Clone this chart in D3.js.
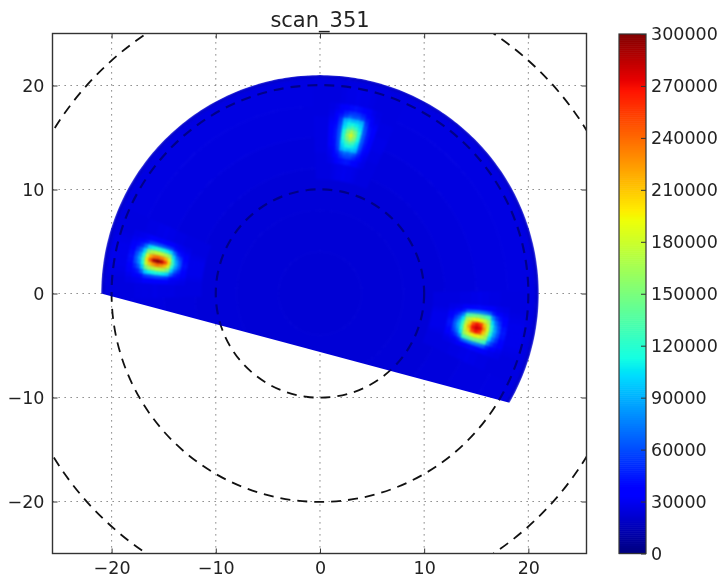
<!DOCTYPE html>
<html><head><meta charset="utf-8">
<script src="https://cdn.jsdelivr.net/npm/d3@7"></script>
<style>html,body{margin:0;padding:0;background:#fff}svg{display:block}text{font-family:"DejaVu Sans";fill:#222}</style>
</head><body><svg id="c" width="720" height="577"></svg>
<script>
const titleText = "scan_351";
const axisTicks = [-20,-10,0,10,20];
const colorTicks = [0,30000,60000,90000,120000,150000,180000,210000,240000,270000,300000];
const circleRadii = [10,20,30];
const sectorRadius = 21, sectorStart = -30, sectorEnd = 180;
const bgEdges = [0,4,8,12,15,18,20.7,21];
const bgValues = [22000,22500,23000,24000,25000,25500,20000];
const radialEdges = [-4.5,-2.9,-2.3,-1.95,-1.6,-1.25,-.9,-.55,-.18,.18,.55,.9,1.25,1.6,1.95,2.3,2.9,4.5];
const arcEdges = [-3.5,-2.2,-1.7,-1.35,-.95,-.55,-.17,.17,.55,.95,1.35,1.7,2.2,3.5];
const peakCenters = [[15.9,168.8],[15.5,79],[15.4,-12.3]];
// values in thousands; rows run along the radius, columns along the arc
const peakLeft = [
[25,25,26,27,28,28,28,28,28,27,26,25,25],
[25,27,29,32,36,40,42,40,36,32,29,27,25],
[25,28,32,40,52,62,66,62,50,40,32,28,25],
[26,29,36,48,68,84,92,84,66,48,36,29,26],
[26,31,42,70,100,118,132,116,98,68,40,30,26],
[26,34,54,100,150,186,205,184,145,98,52,33,26],
[27,36,58,110,168,215,252,212,165,108,56,35,26],
[27,37,60,116,176,232,284,228,172,112,58,36,26],
[28,38,62,118,180,240,298,238,176,114,60,36,27],
[27,37,60,116,176,236,288,226,172,112,58,36,26],
[27,36,58,110,168,218,246,210,164,108,56,35,26],
[26,34,54,100,150,184,200,180,146,98,52,33,26],
[26,31,42,70,100,116,128,114,96,66,40,30,26],
[26,29,36,48,66,82,88,80,64,46,36,29,26],
[25,28,32,40,50,60,64,60,48,40,32,28,25],
[25,27,29,32,36,40,42,40,36,32,29,27,25],
[25,25,26,27,28,28,28,28,28,27,26,25,25]];
const peakTop = [
[25,25,26,27,28,28,29,28,28,27,26,25,25],
[25,27,29,34,38,42,44,42,40,34,29,27,25],
[25,28,33,40,48,56,58,56,50,40,33,28,25],
[26,29,35,46,60,68,66,70,60,46,35,29,26],
[26,31,39,54,90,96,94,98,90,54,39,31,26],
[26,33,41,60,100,110,116,112,100,58,41,33,26],
[27,34,43,62,106,126,136,126,108,60,41,33,26],
[27,35,45,64,113,148,170,148,116,62,43,34,26],
[27,35,45,64,116,158,186,158,116,62,43,34,26],
[27,35,45,64,113,146,166,148,113,62,43,34,26],
[26,34,43,62,106,123,133,123,104,60,41,33,26],
[26,33,41,58,98,108,112,110,98,56,39,32,26],
[26,31,38,52,88,94,92,96,88,52,37,30,26],
[26,28,34,44,56,64,62,66,56,44,33,28,25],
[25,27,31,38,46,52,54,52,46,38,31,27,25],
[25,26,28,32,36,40,42,40,36,32,28,26,25],
[25,25,25,26,27,27,28,27,27,26,25,25,25]];
const peakRight = [
[25,25,26,27,28,28,28,28,28,27,26,25,25],
[25,27,29,33,38,42,44,42,38,33,29,27,25],
[25,28,33,42,54,62,66,62,54,42,33,28,25],
[26,29,38,54,72,84,90,84,72,54,38,29,26],
[26,32,46,76,104,118,124,118,104,76,46,32,26],
[26,36,64,126,162,176,184,176,162,126,64,36,26],
[27,38,70,136,178,205,222,205,178,136,70,38,27],
[27,39,74,142,190,250,268,250,190,142,74,39,27],
[28,40,76,146,196,268,280,268,196,146,76,40,28],
[27,39,74,142,190,255,272,255,190,142,74,39,27],
[27,38,70,136,178,210,228,210,178,136,70,38,27],
[26,36,64,126,160,176,186,176,160,126,64,36,26],
[26,32,46,76,102,116,124,116,102,76,46,32,26],
[26,29,38,54,70,82,88,82,70,54,38,29,26],
[25,28,33,42,52,60,64,60,52,42,33,28,25],
[25,27,29,33,38,42,44,42,38,33,29,27,25],
[25,25,26,27,28,28,28,28,28,27,26,25,25]];
const peaks = [peakLeft, peakTop, peakRight];

const svg = d3.select("#c");
const x = d3.scaleLinear().domain([-25.67,25.58]).range([52.5,586.5]);
const y = d3.scaleLinear().domain([-25,25]).range([553.5,33.5]);
const rpx = r => x(r)-x(0);
const polar = (r,deg) => [x(r*Math.cos(deg*Math.PI/180)), y(r*Math.sin(deg*Math.PI/180))];
const red = d3.scaleLinear().domain([0,.35,.66,.89,1]).range([0,0,1,1,.5]).clamp(true);
const green = d3.scaleLinear().domain([0,.125,.375,.64,.91,1]).range([0,0,1,1,0,0]).clamp(true);
const blue = d3.scaleLinear().domain([0,.11,.34,.65,1]).range([.5,1,1,0,0]).clamp(true);
const norm = d3.scaleLinear().domain([0,300000]).range([0,1]);
const jet = v => { const t=norm(v); return d3.rgb(red(t)*255,green(t)*255,blue(t)*255).formatRgb(); };

const defs = svg.append("defs");
const blur = (id,s)=>defs.append("filter").attr("id",id).attr("x","-5%").attr("y","-5%").attr("width","110%").attr("height","110%")
  .attr("color-interpolation-filters","sRGB").append("feGaussianBlur").attr("stdDeviation",s);
blur("soft",1.0); blur("all",0.45);
const sectorPts = d3.range(sectorStart,sectorEnd+.5,1).map(a=>polar(sectorRadius,a));
defs.append("clipPath").attr("id","sector").append("path").attr("d",d3.line()(sectorPts)+"Z");
defs.append("clipPath").attr("id","plot").append("rect")
  .attr("x",x.range()[0]).attr("y",y.range()[1]).attr("width",x.range()[1]-x.range()[0]).attr("height",y.range()[0]-y.range()[1]);

const root = svg.append("g").attr("filter","url(#all)");
const plot = root.append("g").attr("clip-path","url(#plot)");
// grid
plot.selectAll(".gx").data(axisTicks).join("line").attr("x1",d=>x(d)).attr("x2",d=>x(d)).attr("y1",y.range()[0]).attr("y2",y.range()[1]);
plot.selectAll(".gy").data(axisTicks).enter().append("line").attr("y1",d=>y(d)).attr("y2",d=>y(d)).attr("x1",x.range()[0]).attr("x2",x.range()[1]);
plot.selectAll("line").attr("stroke","#777").attr("stroke-width",1.1).attr("stroke-dasharray","1.3,4.7");
// dashed circles under the mesh
const circles = (g,color,w)=>g.selectAll("circle").data(circleRadii).join("circle")
  .attr("cx",x(0)).attr("cy",y(0)).attr("r",d=>rpx(d)).attr("fill","none")
  .attr("stroke",color).attr("stroke-width",w).attr("stroke-dasharray","10,7");
circles(plot.append("g"),"#111",1.8);
// mesh
const mesh = plot.append("g").attr("clip-path","url(#sector)");
const inner = mesh.append("g").attr("filter","url(#soft)");
const arc = d3.arc();
inner.selectAll(".bg").data(bgValues).join("path")
  .attr("transform",`translate(${x(0)},${y(0)})`)
  .attr("d",(d,i)=>arc({innerRadius:rpx(bgEdges[i]),outerRadius:rpx(bgEdges[i+1]),startAngle:0,endAngle:2*Math.PI}))
  .attr("fill",d=>jet(d)).attr("stroke",d=>jet(d)).attr("stroke-width",1);
peaks.forEach((m,p)=>{
  const [r0,a0]=peakCenters[p];
  const deg = s => a0 + s/r0*180/Math.PI;
  m.forEach((row,i)=>row.forEach((v,j)=>{
    const r1=r0+radialEdges[i], r2=r0+radialEdges[i+1], a1=deg(arcEdges[j]), a2=deg(arcEdges[j+1]);
    inner.append("path").attr("d",d3.line()([polar(r1,a1),polar(r2,a1),polar(r2,a2),polar(r1,a2)])+"Z")
      .attr("fill",jet(v*1000)).attr("stroke",jet(v*1000)).attr("stroke-width",.4);
  }));
});
circles(mesh.append("g"),"#000088",2.2);

// axes
const ax = (gen,t,labels)=>{const g=root.append("g").attr("transform",t)
  .call(gen.tickValues(axisTicks).tickSizeInner(-5).tickSizeOuter(0).tickPadding(8).tickFormat(labels?null:""));
  g.select(".domain").remove(); g.selectAll("line").attr("stroke","#333").attr("stroke-width",1);
  g.selectAll("text").attr("font-size",17.5).attr("fill","#222").attr("font-family","DejaVu Sans"); return g;};
ax(d3.axisBottom(x),`translate(0,${y.range()[0]})`,true);
ax(d3.axisTop(x),`translate(0,${y.range()[1]})`,false);
ax(d3.axisLeft(y),`translate(${x.range()[0]},0)`,true);
ax(d3.axisRight(y),`translate(${x.range()[1]},0)`,false);
root.append("rect").attr("x",x.range()[0]).attr("y",y.range()[1]).attr("width",x.range()[1]-x.range()[0]).attr("height",y.range()[0]-y.range()[1])
  .attr("fill","none").attr("stroke","#333").attr("stroke-width",1.4);
root.append("text").attr("x",320).attr("y",27).attr("text-anchor","middle").attr("font-size",21).text(titleText);

// colorbar
const cy = d3.scaleLinear().domain([0,300000]).range([553.5,34]);
const cbX0=619, cbX1=646;
const steps = d3.range(0,300000,300000/256);
root.append("g").selectAll("rect").data(steps).join("rect")
  .attr("x",cbX0).attr("width",cbX1-cbX0).attr("y",d=>cy(d+300000/256)).attr("height",d=>cy(d)-cy(d+300000/256)+.6).attr("fill",d=>jet(d));
root.append("rect").attr("x",cbX0).attr("y",cy.range()[1]).attr("width",cbX1-cbX0).attr("height",cy.range()[0]-cy.range()[1])
  .attr("fill","none").attr("stroke","#333").attr("stroke-width",1.2);
const cb = root.append("g").attr("transform",`translate(${cbX1},0)`)
  .call(d3.axisRight(cy).tickValues(colorTicks).tickFormat(d3.format("d")).tickSizeInner(-5).tickSizeOuter(0).tickPadding(5));
cb.select(".domain").remove(); cb.selectAll("line").attr("stroke","#333");
cb.selectAll("text").attr("font-size",17.5).attr("fill","#222").attr("font-family","DejaVu Sans");
</script></body></html>
